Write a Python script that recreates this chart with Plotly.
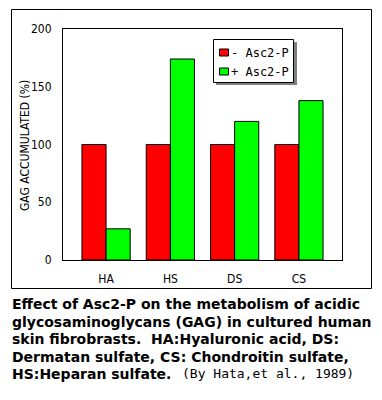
import plotly.graph_objects as go

categories = ["HA", "HS", "DS", "CS"]
minus_asc = [100, 100, 100, 100]
plus_asc = [27, 174, 120, 138]
y_ticks = [0, 50, 100, 150, 200]
series_names = ["- Asc2-P", "+ Asc2-P"]
series_colors = ["#FF0000", "#00FF00"]
y_title = "GAG ACCUMULATED (%)"
caption_lines = [
    "Effect of Asc2-P on the metabolism of acidic",
    "glycosaminoglycans (GAG) in cultured human",
    "skin fibrobrasts.  HA:Hyaluronic acid, DS:",
    "Dermatan sulfate, CS: Chondroitin sulfate,",
    "HS:Heparan sulfate.",
]
citation = "(By Hata,et al., 1989)"

W, H = 382, 400
L, R, T, B = 63, 40, 29, 140
pw, ph = W - L - R, H - T - B

def px_x(x):
    return (x - L) / pw

def px_y(y):
    return (H - B - y) / ph

narrow = "Liberation Sans Narrow, DejaVu Sans Condensed, DejaVu Sans Mono, monospace"
mono = "DejaVu Sans Mono, Liberation Mono, monospace"

fig = go.Figure()
for name, vals, col in zip(series_names, [minus_asc, plus_asc], series_colors):
    fig.add_trace(go.Bar(x=categories, y=vals, name=name,
                         marker=dict(color=col, line=dict(color="black", width=1))))

fig.update_layout(
    width=W, height=H,
    margin=dict(l=L, r=R, t=T, b=B, autoexpand=False),
    paper_bgcolor="white", plot_bgcolor="white",
    barmode="group", bargap=0.25, bargroupgap=0,
    font=dict(family=narrow, size=12, color="black"),
    showlegend=False,
    xaxis=dict(range=[-0.67, 3.67], showline=True, linecolor="black", linewidth=1,
               mirror=True, showgrid=False, ticks="", ticklabelstandoff=8,
               tickfont=dict(family=narrow, size=12)),
    yaxis=dict(range=[0, 200], tickvals=y_ticks, showline=True, linecolor="black",
               linewidth=1, mirror=True, showgrid=False, zeroline=False, ticks="",
               ticklabelstandoff=8, tickfont=dict(family=narrow, size=12)),
)

# y axis title
fig.add_annotation(text=y_title, xref="paper", yref="paper",
                   x=px_x(25), y=px_y(146), textangle=-90,
                   xanchor="center", yanchor="middle", showarrow=False,
                   font=dict(family=narrow, size=12, color="black"))

# outer frame (four lines)
fx0, fx1, fy0, fy1 = px_x(11.5), px_x(371.5), px_y(288.5), px_y(9.5)
for (a, b, c, d) in [(fx0, fy0, fx1, fy0), (fx0, fy1, fx1, fy1),
                     (fx0, fy0, fx0, fy1), (fx1, fy0, fx1, fy1)]:
    fig.add_shape(type="line", xref="paper", yref="paper",
                  x0=a, y0=b, x1=c, y1=d,
                  line=dict(color="black", width=1), layer="above")

# legend: shadow, box, swatches, labels
fig.add_shape(type="rect", xref="paper", yref="paper",
              x0=px_x(216), x1=px_x(297), y0=px_y(85), y1=px_y(42),
              line=dict(width=0), fillcolor="#808080", layer="above")
fig.add_shape(type="rect", xref="paper", yref="paper",
              x0=px_x(213.5), x1=px_x(293.5), y0=px_y(82.5), y1=px_y(39.5),
              line=dict(color="black", width=1), fillcolor="white", layer="above")
for i, (name, col) in enumerate(zip(series_names, series_colors)):
    yc = 52.5 + i * 19
    fig.add_shape(type="rect", xref="paper", yref="paper",
                  x0=px_x(219.5), x1=px_x(228.5), y0=px_y(yc + 3.5), y1=px_y(yc - 3.5),
                  line=dict(color="black", width=1), fillcolor=col, layer="above")
    fig.add_annotation(text=name, xref="paper", yref="paper",
                       x=px_x(229), y=px_y(yc), xanchor="left", yanchor="middle",
                       showarrow=False, font=dict(family=mono, size=12, color="black"))

# caption
for i, line in enumerate(caption_lines):
    yc = 304 + i * 17.6
    fig.add_annotation(text="<b>" + line + "</b>", xref="paper", yref="paper",
                       x=px_x(10), y=px_y(yc), xanchor="left", yanchor="middle",
                       align="left", showarrow=False,
                       font=dict(family="DejaVu Sans, sans-serif", size=14, color="black"))
fig.add_annotation(text=citation, xref="paper", yref="paper",
                   x=px_x(180), y=px_y(304 + 4 * 17.6 - 1), xanchor="left", yanchor="middle",
                   showarrow=False, font=dict(family=mono, size=13, color="black"))

fig.write_html("out.html", config={"displayModeBar": False},
               post_script="document.body.style.margin='0';")
